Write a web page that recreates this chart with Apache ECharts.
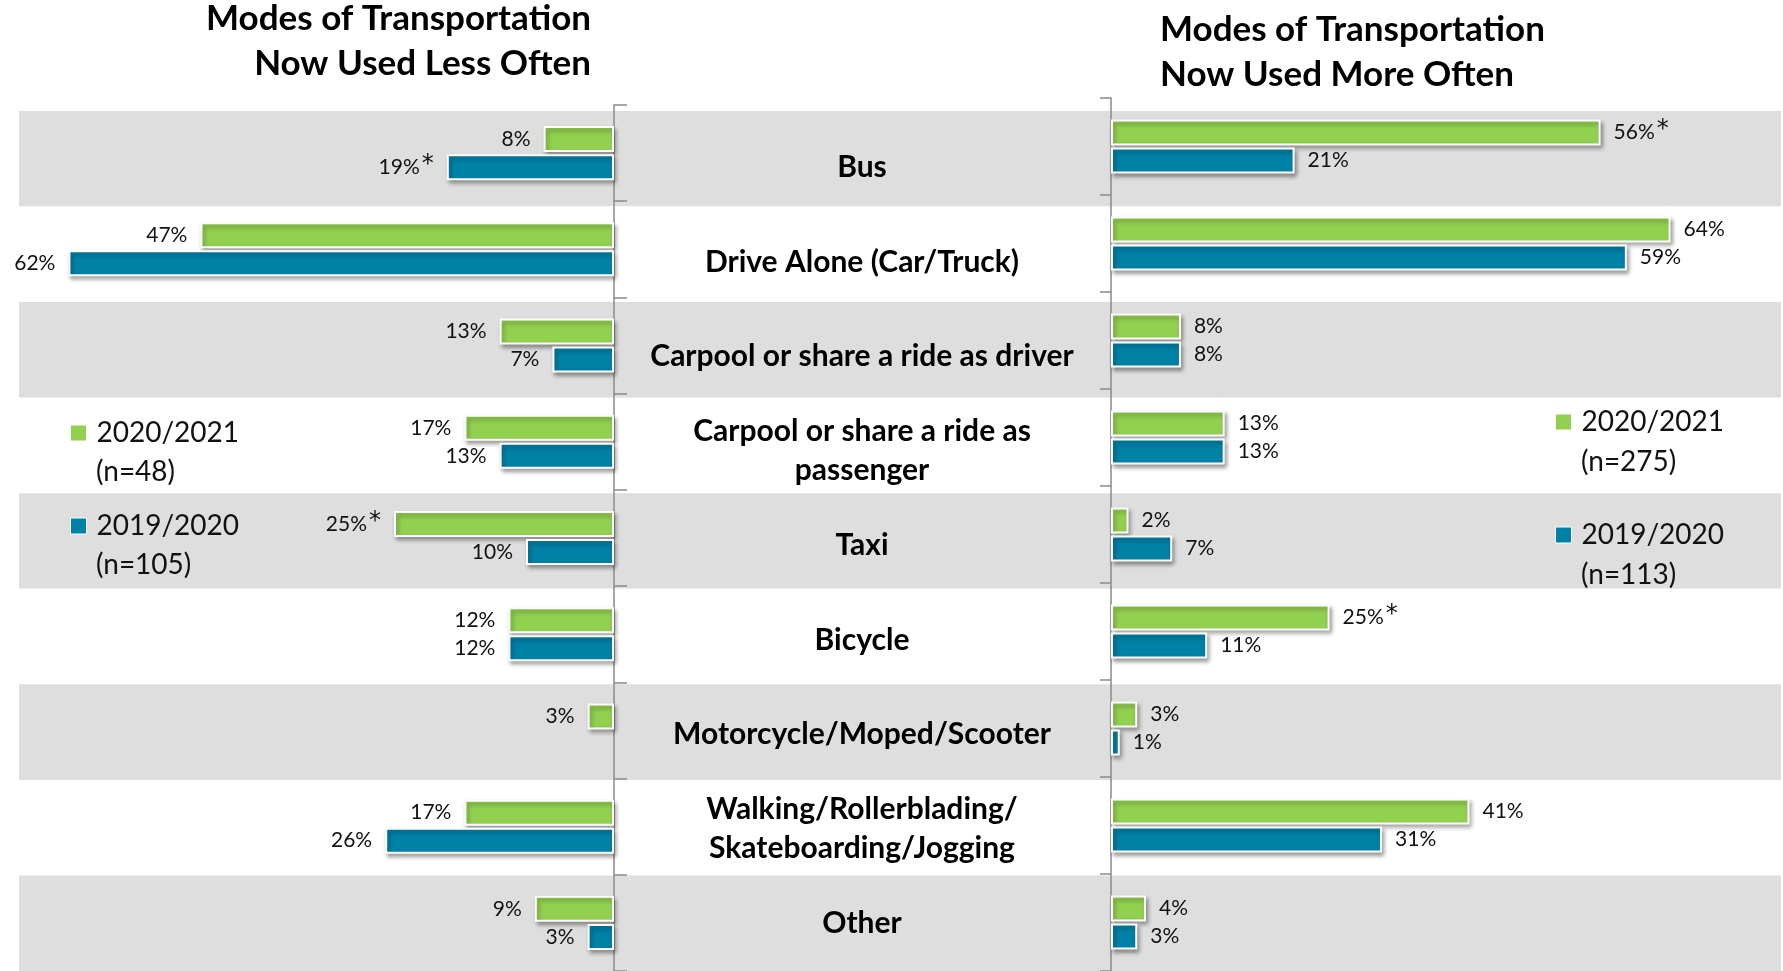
<!DOCTYPE html>
<html>
<head>
<meta charset="utf-8">
<script src="https://cdn.jsdelivr.net/npm/echarts@6/dist/echarts.min.js"></script>
<style>
  html, body { margin: 0; padding: 0; background: #fff; }
  #chart { width: 1783px; height: 971px; }
</style>
</head>
<body>
<div id="chart"></div>
<script>
// modes of transportation, less / more often
var categories = ['Bus', 'Drive Alone (Car/Truck)', 'Carpool or share a ride as driver',
    'Carpool or share a ride as\npassenger', 'Taxi', 'Bicycle', 'Motorcycle/Moped/Scooter',
    'Walking/Rollerblading/\nSkateboarding/Jogging', 'Other'];

var lessNow  = [8, 47, 13, 17, 25, 12, 3, 17, 9];
var lessPrev = [19, 62, 7, 13, 10, 12, '-', 26, 3];
var moreNow  = [56, 64, 8, 13, 2, 25, 3, 41, 4];
var morePrev = [21, 59, 8, 13, 7, 11, 1, 31, 3];

// significance marks
var lessNowStar  = ['', '', '', '', '*', '', '', '', ''];
var lessPrevStar = ['*', '', '', '', '', '', '', '', ''];
var moreNowStar  = ['*', '', '', '', '', '*', '', '', ''];
var morePrevStar = ['', '', '', '', '', '', '', '', ''];

var legendNames = {
    lessNow: '2020/2021', lessPrev: '2019/2020',
    moreNow: '2020/2021', morePrev: '2019/2020'
};

var GREEN = '#92d050', BLUE = '#0081a6';
var FONT = 'Lato';

function pctLabel(stars, pos) {
    return {
        show: true,
        position: pos,
        distance: 13,
        fontFamily: FONT,
        fontSize: 21,
        color: '#111',
        formatter: function (p) {
            var s = stars[p.dataIndex];
            return p.value + '%' + (s ? '{s|' + s + '}' : '');
        },
        rich: {
            s: { fontFamily: 'DejaVu Sans', fontSize: 24, color: '#111', padding: [0, 0, 5, 2] }
        }
    };
}

function barSeries(name, data, color, stars, gridIdx, pos) {
    return {
        name: name,
        type: 'bar',
        xAxisIndex: gridIdx,
        yAxisIndex: gridIdx,
        data: data,
        barWidth: 26,
        barGap: '8%',
        itemStyle: {
            color: color,
            borderColor: '#fff',
            borderWidth: 2,
            shadowColor: 'rgba(0,0,0,0.35)',
            shadowBlur: 4,
            shadowOffsetX: 2,
            shadowOffsetY: 3
        },
        label: pctLabel(stars, pos)
    };
}

var chart = echarts.init(document.getElementById('chart'));

var option = {
    backgroundColor: '#fff',
    animation: false,
    grid: [
        { left: 42, right: 1169, top: 105, bottom: -2 },   // left panel
        { left: 1111, right: 60, top: 98, bottom: -3 },    // right panel
        { left: 19, right: 2, top: 111, bottom: 0 },       // striped rows
        { left: 19, right: 2, top: 120, bottom: -9 }       // centre labels
    ],
    xAxis: [
        { gridIndex: 0, type: 'value', min: 0, max: 65, inverse: true, show: false },
        { gridIndex: 1, type: 'value', min: 0, max: 70, show: false },
        { gridIndex: 2, type: 'value', min: 0, max: 1, show: false },
        { gridIndex: 3, type: 'value', min: 0, max: 1, show: false }
    ],
    yAxis: [
        {
            gridIndex: 0, type: 'category', data: categories, inverse: true, position: 'right',
            axisLine: { show: true, lineStyle: { color: '#8a8a8a', width: 1.5 } },
            axisTick: { show: true, length: 13, lineStyle: { color: '#8a8a8a', width: 1.5 } },
            axisLabel: { show: false }
        },
        {
            gridIndex: 1, type: 'category', data: categories, inverse: true, position: 'left',
            axisLine: { show: true, lineStyle: { color: '#8a8a8a', width: 1.5 } },
            axisTick: { show: true, length: 11, lineStyle: { color: '#8a8a8a', width: 1.5 } },
            axisLabel: { show: false }
        },
        {
            gridIndex: 2, type: 'category', data: categories, inverse: true, position: 'left', z: 0,
            axisLine: { show: false },
            axisTick: { show: false },
            splitArea: { show: true, areaStyle: { color: ['#dedede', '#ffffff'] } },
            axisLabel: { show: false }
        },
        {
            gridIndex: 3, type: 'category', data: categories, inverse: true, position: 'left',
            axisLine: { show: false },
            axisTick: { show: false },
            axisLabel: {
                inside: true,
                margin: 843,
                align: 'center',
                fontFamily: FONT,
                fontWeight: 'bold',
                fontSize: 30,
                lineHeight: 39,
                color: '#000'
            }
        }
    ],
    legend: [
        {
            data: ['lessNow', 'lessPrev'], orient: 'vertical', left: 70, top: 416,
            itemWidth: 16, itemHeight: 16, itemGap: 59, padding: 0,
            icon: 'rect',
            itemStyle: { borderWidth: 1, borderColor: '#fff', shadowBlur: 0, shadowOffsetX: 0, shadowOffsetY: 0 },
            formatter: function (n) { return legendNames[n]; },
            textStyle: { fontFamily: FONT, fontSize: 28, lineHeight: 34, color: '#111', padding: [0, 0, 0, 5] }
        },
        {
            data: ['moreNow', 'morePrev'], orient: 'vertical', left: 1555, top: 405,
            itemWidth: 16, itemHeight: 16, itemGap: 79, padding: 0,
            icon: 'rect',
            itemStyle: { borderWidth: 1, borderColor: '#fff', shadowBlur: 0, shadowOffsetX: 0, shadowOffsetY: 0 },
            formatter: function (n) { return legendNames[n]; },
            textStyle: { fontFamily: FONT, fontSize: 28, lineHeight: 34, color: '#111', padding: [0, 0, 0, 5] }
        }
    ],
    graphic: [
        {
            type: 'text', x: 591, y: -4, z: 10,
            style: {
                text: 'Modes of Transportation\nNow Used Less Often',
                fontFamily: FONT, fontWeight: 'bold', fontSize: 35, lineHeight: 45,
                fill: '#000', textAlign: 'right', textVerticalAlign: 'top'
            }
        },
        {
            type: 'text', x: 1160, y: 7, z: 10,
            style: {
                text: 'Modes of Transportation\nNow Used More Often',
                fontFamily: FONT, fontWeight: 'bold', fontSize: 35, lineHeight: 45,
                fill: '#000', textAlign: 'left', textVerticalAlign: 'top'
            }
        },
        { type: 'text', x: 96, y: 472, z: 10, style: { text: '(n=48)', fontFamily: FONT, fontSize: 28, fill: '#111', textVerticalAlign: 'middle' } },
        { type: 'text', x: 96, y: 565, z: 10, style: { text: '(n=105)', fontFamily: FONT, fontSize: 28, fill: '#111', textVerticalAlign: 'middle' } },
        { type: 'text', x: 1581, y: 462, z: 10, style: { text: '(n=275)', fontFamily: FONT, fontSize: 28, fill: '#111', textVerticalAlign: 'middle' } },
        { type: 'text', x: 1581, y: 575, z: 10, style: { text: '(n=113)', fontFamily: FONT, fontSize: 28, fill: '#111', textVerticalAlign: 'middle' } }
    ],
    series: [
        barSeries('lessNow', lessNow, GREEN, lessNowStar, 0, 'left'),
        barSeries('lessPrev', lessPrev, BLUE, lessPrevStar, 0, 'left'),
        barSeries('moreNow', moreNow, GREEN, moreNowStar, 1, 'right'),
        barSeries('morePrev', morePrev, BLUE, morePrevStar, 1, 'right')
    ]
};

chart.setOption(option);
</script>
</body>
</html>
